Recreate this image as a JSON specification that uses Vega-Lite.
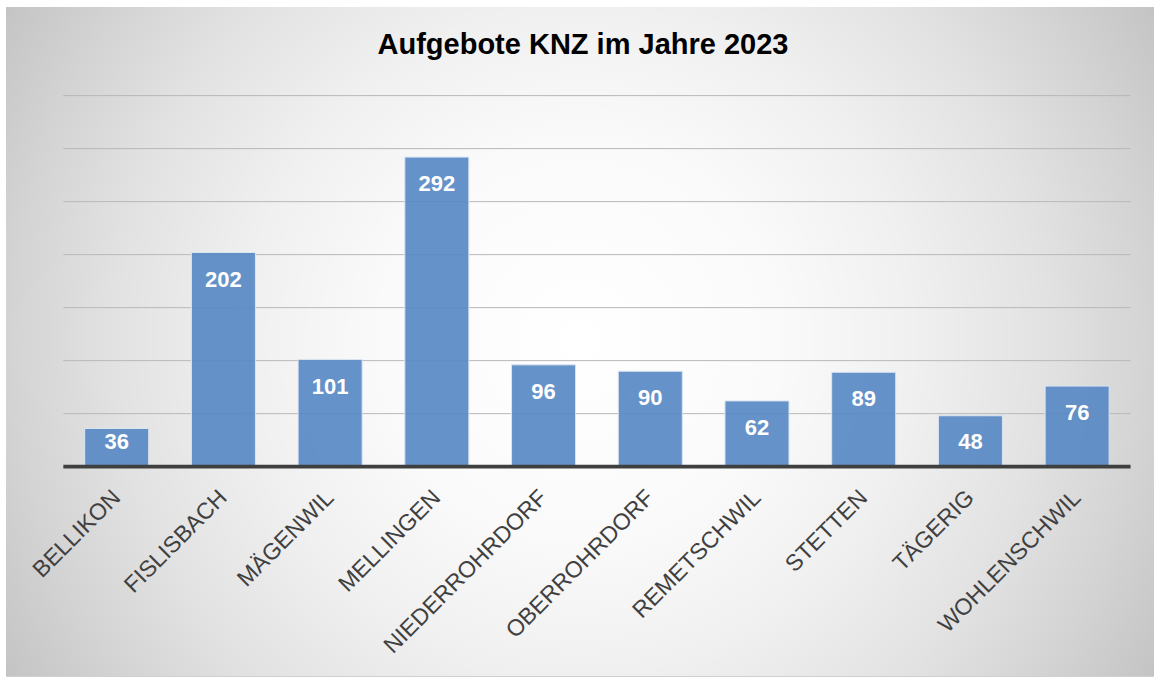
{
  "$schema": "https://vega.github.io/schema/vega-lite/v6.json",
  "width": 1148,
  "height": 669,
  "padding": {"left": 6, "top": 7, "right": 0, "bottom": 1},
  "autosize": {"type": "none"},
  "background": "#ffffff",
  "config": {"font": "Liberation Sans", "view": {"stroke": "#cfcfcf", "strokeWidth": 1}},
  "title": {"text": "Aufgebote KNZ im Jahre 2023", "font": "Liberation Sans", "fontSize": 29, "fontWeight": "bold", "color": "#000000", "anchor": "middle", "frame": "group", "baseline": "alphabetic", "offset": -76, "dx": 3},
  "datasets": {
    "aufgebote": [
      {"Gemeinde": "BELLIKON", "Aufgebote": 36},
      {"Gemeinde": "FISLISBACH", "Aufgebote": 202},
      {"Gemeinde": "MÄGENWIL", "Aufgebote": 101},
      {"Gemeinde": "MELLINGEN", "Aufgebote": 292},
      {"Gemeinde": "NIEDERROHRDORF", "Aufgebote": 96},
      {"Gemeinde": "OBERROHRDORF", "Aufgebote": 90},
      {"Gemeinde": "REMETSCHWIL", "Aufgebote": 62},
      {"Gemeinde": "STETTEN", "Aufgebote": 89},
      {"Gemeinde": "TÄGERIG", "Aufgebote": 48},
      {"Gemeinde": "WOHLENSCHWIL", "Aufgebote": 76}
    ],
    "grid": [{"g": 50}, {"g": 100}, {"g": 150}, {"g": 200}, {"g": 250}, {"g": 300}, {"g": 350}]
  },
  "resolve": {"scale": {"x": "independent"}},
  "layer": [
    {
      "data": {"values": [{}]},
      "mark": {"type": "rect", "clip": true, "fill": {"gradient": "radial", "x1": 0.5, "y1": 0.5, "r1": 0, "x2": 0.5, "y2": 0.5, "r2": 0.5, "stops": [
        {"offset": 0, "color": "#ffffff"},
        {"offset": 0.3, "color": "#fafafa"},
        {"offset": 0.5, "color": "#f0f0f0"},
        {"offset": 0.7, "color": "#e2e2e2"},
        {"offset": 0.85, "color": "#d4d4d4"},
        {"offset": 1, "color": "#c4c4c4"}
      ]}},
      "encoding": {
        "x": {"datum": -1.39, "type": "quantitative", "scale": {"domain": [-0.5373, 10.2196], "nice": false, "zero": false}, "axis": null},
        "x2": {"datum": 11.073},
        "y": {"datum": 746.8, "type": "quantitative", "scale": {"domain": [-197.5, 433.6], "nice": false, "zero": false}, "axis": null},
        "y2": {"datum": -507.9}
      }
    },
    {
      "data": {"name": "grid"},
      "mark": {"type": "rule", "color": "#b8b8b8", "strokeWidth": 1},
      "encoding": {
        "x": {"datum": 0, "type": "quantitative", "scale": {"domain": [-0.5373, 10.2196], "nice": false, "zero": false}, "axis": null},
        "x2": {"datum": 10},
        "y": {"field": "g", "type": "quantitative", "scale": {"domain": [-197.5, 433.6], "nice": false, "zero": false}, "axis": null}
      }
    },
    {
      "data": {"name": "aufgebote"},
      "mark": {"type": "bar", "fill": "#5889c4", "fillOpacity": 0.92, "stroke": "#dbe5f1", "strokeWidth": 1},
      "encoding": {
        "x": {"field": "Gemeinde", "type": "nominal", "sort": null,
          "scale": {"type": "band", "paddingInner": 0.4, "paddingOuter": 0.5786, "align": 0.637},
          "axis": {"title": null, "domain": false, "ticks": false, "tickSize": 0, "grid": false, "labelAngle": -45, "labelAlign": "right", "labelBaseline": "middle", "labelPadding": 27, "labelFontSize": 23, "labelColor": "#404040", "labelFont": "Liberation Sans", "labelLimit": 400, "labelOverlap": false, "offset": -209.35, "zindex": 1}},
        "y": {"field": "Aufgebote", "type": "quantitative", "scale": {"domain": [-197.5, 433.6], "nice": false, "zero": false}, "axis": null}
      }
    },
    {
      "data": {"values": [{}]},
      "mark": {"type": "rule", "color": "#3f3f3f", "strokeWidth": 3.6},
      "encoding": {
        "x": {"datum": 0, "type": "quantitative", "scale": {"domain": [-0.5373, 10.2196], "nice": false, "zero": false}, "axis": null},
        "x2": {"datum": 10},
        "y": {"datum": 0, "type": "quantitative", "scale": {"domain": [-197.5, 433.6], "nice": false, "zero": false}, "axis": null}
      }
    },
    {
      "data": {"name": "aufgebote"},
      "mark": {"type": "text", "color": "#ffffff", "font": "Liberation Sans", "fontSize": 22, "fontWeight": "bold", "align": "center", "baseline": "alphabetic", "dy": {"expr": "min(34, datum.Aufgebote * 1.06 - 17.8)"}},
      "encoding": {
        "x": {"field": "Gemeinde", "type": "nominal", "sort": null,
          "scale": {"type": "band", "paddingInner": 0.4, "paddingOuter": 0.5786, "align": 0.637}, "axis": null},
        "y": {"field": "Aufgebote", "type": "quantitative", "scale": {"domain": [-197.5, 433.6], "nice": false, "zero": false}, "axis": null},
        "text": {"field": "Aufgebote", "type": "quantitative"}
      }
    }
  ]
}
